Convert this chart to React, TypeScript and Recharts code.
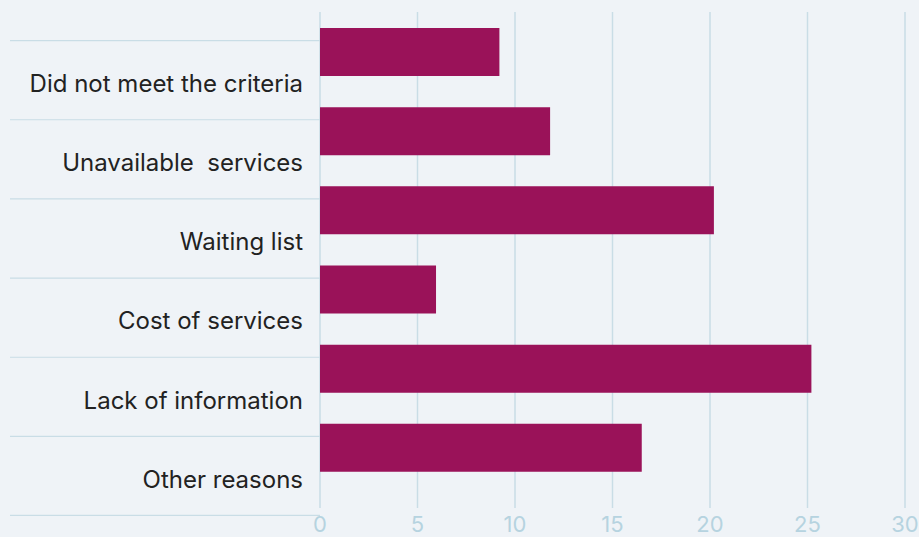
import React from 'react';
import { BarChart, Bar, XAxis, YAxis, CartesianGrid } from 'recharts';

const reasons = [
  'Did not meet the criteria',
  'Unavailable  services',
  'Waiting list',
  'Cost of services',
  'Lack of information',
  'Other reasons',
];
const shares = [9.2, 11.8, 20.2, 5.95, 25.2, 16.5];
const xTicks = [0, 5, 10, 15, 20, 25, 30];

const data = reasons.map((reason, i) => ({ reason, value: shares[i] }));

const FONT = 'Inter, "Noto Sans", sans-serif';
const GRID = '#c9dde6';

// label sits below its bar, with a separator line above each label
const ReasonTick = (props: any) => {
  const { y, payload, index } = props;
  const last = index === reasons.length - 1;
  return (
    <g>
      <line x1={10} x2={320} y1={y - 11} y2={y - 11} stroke={GRID} strokeWidth={1.2} />
      {last && <line x1={10} x2={320} y1={y + 68} y2={y + 68} stroke={GRID} strokeWidth={1.2} />}
      <text
        x={303}
        y={y + 32}
        dy="0.35em"
        textAnchor="end"
        fill="#222"
        fontSize={24}
        fontFamily={FONT}
        style={{ whiteSpace: 'pre' }}
      >
        {payload.value}
      </text>
    </g>
  );
};

const App: React.FC = () => {
  return (
    <div style={{ position: 'absolute', left: 0, top: 0, width: 919, height: 537, background: '#eff3f7', overflow: 'hidden' }}>
      <BarChart
        width={919}
        height={537}
        data={data}
        layout="vertical"
        margin={{ top: 12, right: 14, bottom: 0, left: 10 }}
      >
        <CartesianGrid horizontal={false} stroke={GRID} strokeWidth={1.5} />
        <XAxis
          type="number"
          domain={[0, 30]}
          ticks={xTicks}
          axisLine={false}
          tickLine={false}
          height={29}
          interval={0}
          tick={{ fill: '#b6d3e0', fontSize: 22, fontFamily: FONT }}
        />
        <YAxis
          type="category"
          dataKey="reason"
          width={310}
          axisLine={false}
          tickLine={false}
          padding={{ top: 0, bottom: 21 }}
          interval={0}
          tick={<ReasonTick />}
        />
        <Bar dataKey="value" fill="#9a1259" barSize={48} isAnimationActive={false} />
      </BarChart>
    </div>
  );
};

export default App;
